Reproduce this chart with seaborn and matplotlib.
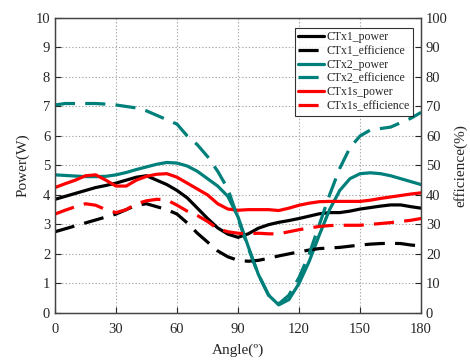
import numpy as np
import pandas as pd
import matplotlib
matplotlib.use("Agg")
import matplotlib.pyplot as plt
import seaborn as sns

angle = list(range(0, 181, 5))

ctx1_power = [3.85, 3.95, 4.05, 4.15, 4.25, 4.32, 4.4, 4.5, 4.6, 4.65, 4.5, 4.35, 4.15,
              3.9, 3.55, 3.2, 2.88, 2.67, 2.56, 2.68, 2.87, 2.99, 3.07, 3.13, 3.2, 3.28,
              3.36, 3.4, 3.4, 3.45, 3.52, 3.57, 3.62, 3.66, 3.66, 3.6, 3.55]
ctx1_eff = [27.5, 28.5, 29.5, 30.5, 31.5, 32.5, 33.5, 35, 36.5, 37, 36, 35, 33.5, 30.5,
            27, 24, 21, 19, 17.8, 17.5, 17.8, 18.5, 19.3, 20, 20.7, 21.3, 21.8, 22, 22.2,
            22.6, 23, 23.3, 23.5, 23.6, 23.5, 23, 22.7]
ctx2_power = [4.68, 4.66, 4.64, 4.62, 4.62, 4.63, 4.68, 4.76, 4.86, 4.95, 5.04, 5.1, 5.08,
              4.98, 4.8, 4.55, 4.3, 3.95, 3.25, 2.25, 1.3, 0.6, 0.27, 0.45, 1.0, 1.75, 2.65,
              3.5, 4.15, 4.55, 4.72, 4.75, 4.72, 4.65, 4.55, 4.45, 4.35]
ctx2_eff = [70.5, 71, 71, 71, 71, 70.8, 70.5, 70, 69.5, 68.5, 67, 65.5, 64, 60, 57, 53,
            48, 42, 32, 22, 13, 6, 3, 6, 12, 20, 30, 40, 49, 56, 60, 62, 62.5, 63, 64.5,
            66, 68]
ctx1s_power = [4.25, 4.38, 4.5, 4.65, 4.68, 4.5, 4.3, 4.3, 4.5, 4.63, 4.7, 4.72, 4.6, 4.4,
               4.2, 4.0, 3.7, 3.52, 3.48, 3.5, 3.5, 3.5, 3.47, 3.55, 3.65, 3.72, 3.77, 3.78,
               3.78, 3.78, 3.78, 3.82, 3.88, 3.93, 3.98, 4.03, 4.07]
ctx1s_eff = [33.5, 34.8, 36, 37, 36.5, 35, 34, 35, 37, 38, 38.5, 38.3, 36.5, 34.5, 33, 31,
             28.5, 27.5, 27, 26.8, 27, 26.8, 26.8, 27.5, 28.2, 28.8, 29.3, 29.6, 29.7, 29.7,
             29.7, 30, 30.3, 30.6, 31, 31.4, 32]

xticks = [0, 30, 60, 90, 120, 150, 180]

sns.set_style("ticks")
plt.rcParams['font.family'] = ['Liberation Serif', 'DejaVu Serif']

fig = plt.figure(figsize=(4.7, 3.6), dpi=100)
ax = fig.add_axes([0.117, 0.131, 0.779, 0.819])
ax2 = ax.twinx()

teal = "#00807a"
lw = 2.3
dash = (6.3, 3.2)

df = pd.DataFrame({"angle": angle, "p1": ctx1_power, "e1": ctx1_eff, "p2": ctx2_power,
                   "e2": ctx2_eff, "p1s": ctx1s_power, "e1s": ctx1s_eff})

sns.lineplot(data=df, x="angle", y="p1", ax=ax, color="black", lw=lw, label="CTx1_power", legend=False)
sns.lineplot(data=df, x="angle", y="p2", ax=ax, color=teal, lw=lw, label="CTx2_power", legend=False)
sns.lineplot(data=df, x="angle", y="p1s", ax=ax, color="red", lw=lw, label="CTx1s_power", legend=False)
sns.lineplot(data=df, x="angle", y="e1", ax=ax2, color="black", lw=lw, label="CTx1_efficience", legend=False)
sns.lineplot(data=df, x="angle", y="e2", ax=ax2, color=teal, lw=lw, label="CTx2_efficience", legend=False)
sns.lineplot(data=df, x="angle", y="e1s", ax=ax2, color="red", lw=lw, label="CTx1s_efficience", legend=False)
for ln in ax2.get_lines():
    ln.set_dashes(dash)

ax.set_xlim(0, 180)
ax.set_ylim(0, 10)
ax2.set_ylim(0, 100)
ax.set_xticks(xticks)
ax.set_yticks(range(0, 11))
ax2.set_yticks(range(0, 101, 10))
ax.grid(True, color="#a8a8a8", linestyle=(0, (1.2, 1.8)), lw=0.8)
ax.set_axisbelow(True)
ax.set_xlabel("Angle(º)", fontsize=11, labelpad=6)
ax.set_ylabel("Power(W)", fontsize=11)
ax2.set_ylabel("efficience(%)", fontsize=11)
for a in (ax, ax2):
    a.tick_params(direction="in", labelsize=10.5, length=4, width=0.8)
    for s in a.spines.values():
        s.set_color("#444444")
        s.set_linewidth(0.9)
ax.tick_params(axis="x", pad=7)

l = ax.get_lines()[:3]
l2 = ax2.get_lines()
handles = [l[0], l2[0], l[1], l2[1], l[2], l2[2]]
labels = [h.get_label() for h in handles]
leg = ax2.legend(handles, labels, loc="upper right", bbox_to_anchor=(0.985, 0.975),
                 fontsize=8.5, frameon=True, fancybox=False, edgecolor="black",
                 handlelength=2.2, handletextpad=0.2, labelspacing=0.15, borderpad=0.3,
                 borderaxespad=0.2)
leg.get_frame().set_linewidth(0.8)

fig.savefig("out.png", dpi=100)
